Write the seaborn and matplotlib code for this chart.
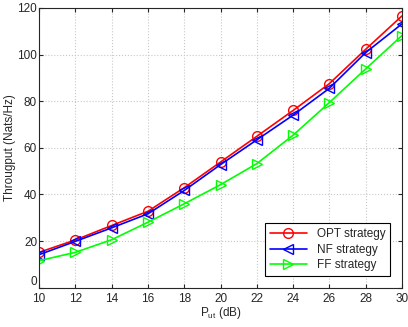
import numpy as np
import pandas as pd
import matplotlib
matplotlib.use('Agg')
import matplotlib.pyplot as plt
import seaborn as sns

# Data
p_ut = [10, 12, 14, 16, 18, 20, 22, 24, 26, 28, 30]
opt = [15.2, 20.5, 26.7, 32.8, 42.9, 53.9, 64.9, 76.0, 87.5, 102.2, 116.5]
nf = [14.2, 19.9, 25.7, 31.7, 41.7, 52.8, 63.4, 74.0, 85.5, 100.8, 113.1]
ff = [11.6, 15.2, 20.6, 28.1, 36.0, 44.2, 53.2, 65.4, 79.4, 93.8, 108.1]

df = pd.DataFrame({'P': p_ut * 3,
                   'T': opt + nf + ff,
                   'S': ['OPT strategy'] * 11 + ['NF strategy'] * 11 + ['FF strategy'] * 11})

sns.set_style('ticks')
plt.rcParams['font.family'] = ['Liberation Sans', 'DejaVu Sans']
plt.rcParams['xtick.direction'] = 'in'
plt.rcParams['ytick.direction'] = 'in'

fig = plt.figure(figsize=(4.08, 3.27), dpi=100)
ax = fig.add_axes([0.096, 0.12, 0.889, 0.856])

palette = {'OPT strategy': '#ff0000', 'NF strategy': '#0000ff', 'FF strategy': '#00ff00'}
markers = {'OPT strategy': 'o', 'NF strategy': '<', 'FF strategy': '>'}
for name in ['OPT strategy', 'NF strategy', 'FF strategy']:
    sub = df[df['S'] == name]
    sns.lineplot(data=sub, x='P', y='T', ax=ax, color=palette[name], marker=markers[name],
                 markersize=7, markerfacecolor='none', markeredgecolor=palette[name],
                 markeredgewidth=1.0, linewidth=1.2, label=name)

ax.set_xlim(10, 30)
ax.set_ylim(0, 120)
ax.set_xticks(range(10, 31, 2))
ax.set_yticks(range(0, 121, 20))
ax.grid(True, linestyle=':', color='#c8c8c8', linewidth=0.8)
ax.tick_params(labelsize=8.5, top=True, right=True, length=3,
               color='#262626', labelcolor='#262626')
ax.tick_params(axis='x', pad=4)
ax.tick_params(axis='y', pad=1.5)
# lift the "0" label a touch so it clears the "10" below it
ax.get_yticklabels()[0].set_verticalalignment('bottom')
for s in ax.spines.values():
    s.set_color('#262626')
    s.set_linewidth(0.8)
ax.set_xlabel('$\\mathregular{P_{ut}}$ (dB)', fontsize=8.5, labelpad=0)
ax.set_ylabel('Througput (Nats/Hz)', fontsize=8.5, labelpad=1)

leg = ax.legend(loc='lower right', fontsize=8.5, fancybox=False, edgecolor='black',
                framealpha=1, borderaxespad=1.0, handlelength=3.2, labelspacing=0.3)
leg.get_frame().set_linewidth(0.8)

fig.savefig('out.png', dpi=100)
